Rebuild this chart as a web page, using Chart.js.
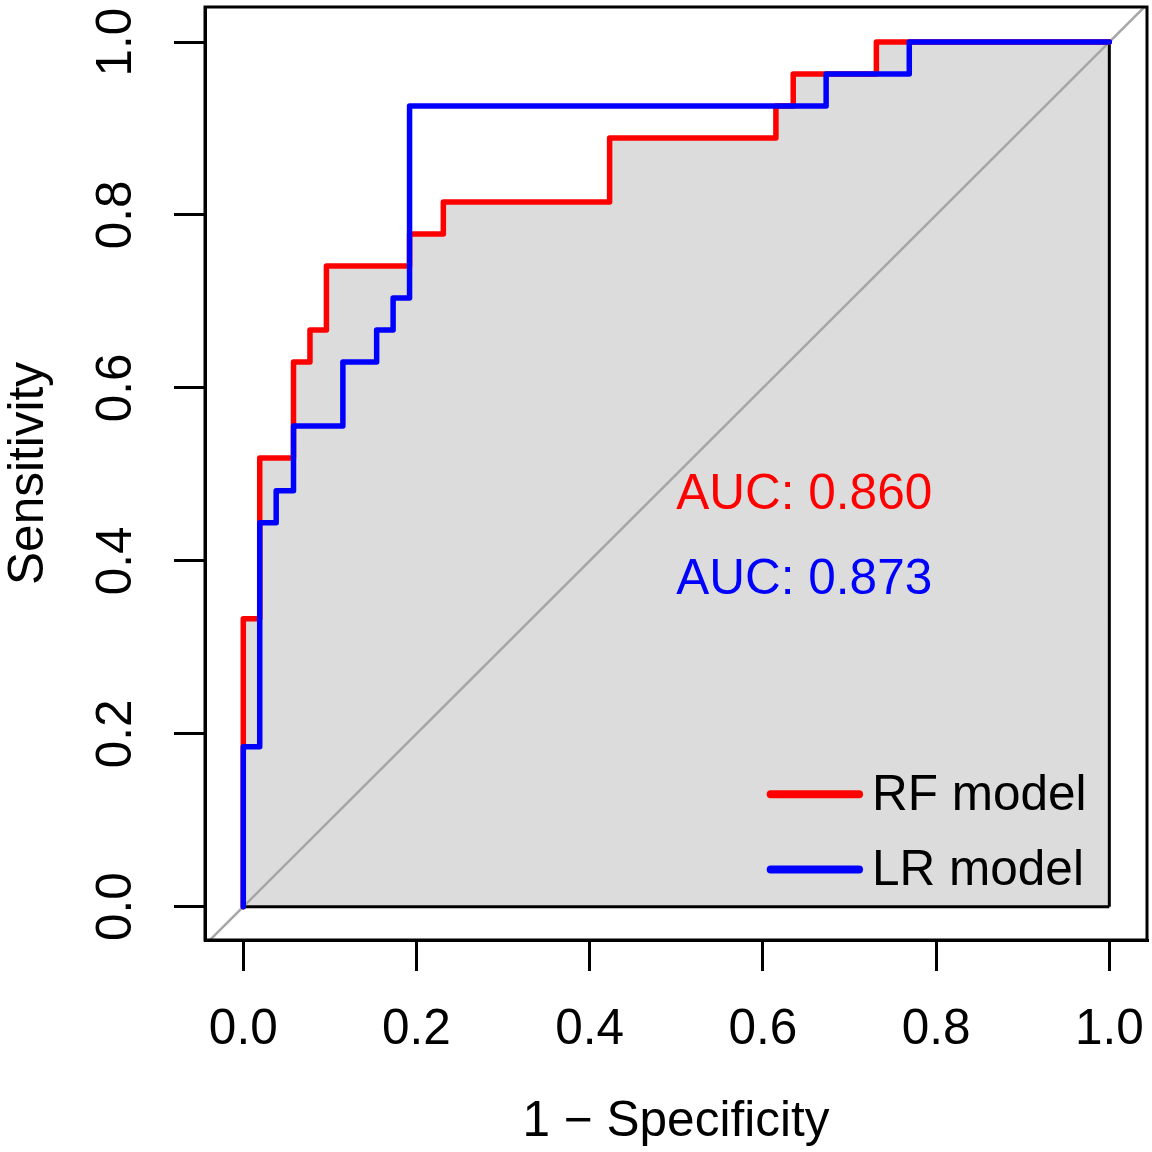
<!DOCTYPE html>
<html>
<head>
<meta charset="utf-8">
<title>ROC curves</title>
<script src="https://cdn.jsdelivr.net/npm/chart.js@4.4.1/dist/chart.umd.min.js"></script>
<style>
  html, body { margin: 0; padding: 0; background: #fff; }
  #wrap { width: 1152px; height: 1152px; position: relative; }
</style>
</head>
<body>
<div id="wrap"><canvas id="roc-chart"></canvas></div>
<script>
  // --- DATOS (1 - especificidad, sensibilidad) ---
  const rfFpr = [0, 0, 0.019, 0.019, 0.058, 0.058, 0.077, 0.077, 0.096, 0.096, 0.192, 0.192,
    0.231, 0.231, 0.423, 0.423, 0.615, 0.615, 0.635, 0.635, 0.731, 0.731, 1];
  const rfTpr = [0, 0.333, 0.333, 0.519, 0.519, 0.630, 0.630, 0.667, 0.667, 0.741, 0.741, 0.778,
    0.778, 0.815, 0.815, 0.889, 0.889, 0.926, 0.926, 0.963, 0.963, 1, 1];

  const lrFpr = [0, 0, 0.019, 0.019, 0.038, 0.038, 0.058, 0.058, 0.115, 0.115, 0.154, 0.154,
    0.173, 0.173, 0.192, 0.192, 0.673, 0.673, 0.769, 0.769, 1];
  const lrTpr = [0, 0.185, 0.185, 0.444, 0.444, 0.481, 0.481, 0.556, 0.556, 0.630, 0.630, 0.667,
    0.667, 0.704, 0.704, 0.926, 0.926, 0.963, 0.963, 1, 1];

  const modelNames = ["RF model", "LR model"];
  const aucValues = [0.860, 0.873];
  const diagonal = [-0.1, 1.1];
  const tickValues = [0, 0.2, 0.4, 0.6, 0.8, 1.0];

  const FONT = '"Liberation Sans", Arial, Helvetica, sans-serif';
  const FONT_SIZE = 49.5;
  const RED = "#ff0000";
  const BLUE = "#0000ff";

  const toPoints = (xs, ys) => xs.map((x, i) => ({ x: x, y: ys[i] }));

  const rfPoints = toPoints(rfFpr, rfTpr);
  const lrPoints = toPoints(lrFpr, lrTpr);
  // polígono del AUC (bajo la curva RF), cerrado en (1, 0)
  const polygonPoints = rfPoints.concat([{ x: 1, y: 0 }]);

  // --- CAJA, TEXTOS AUC Y LEYENDA ---
  const rocExtras = {
    id: "rocExtras",
    afterDatasetsDraw(chart) {
      const ctx = chart.ctx;
      const xs = chart.scales.x;
      const ys = chart.scales.y;
      const colors = [RED, BLUE];

      ctx.save();
      ctx.font = `${FONT_SIZE}px ${FONT}`;
      ctx.textBaseline = "middle";
      ctx.textAlign = "left";

      // AUC
      const aucY = [0.476, 0.377];
      aucValues.forEach((v, i) => {
        ctx.fillStyle = colors[i];
        ctx.fillText(`AUC: ${v.toFixed(3)}`, xs.getPixelForValue(0.5), ys.getPixelForValue(aucY[i]));
      });

      // leyenda
      const rowY = [0.130, 0.043];
      ctx.lineWidth = 8;
      ctx.lineCap = "round";
      modelNames.forEach((name, i) => {
        const y = ys.getPixelForValue(rowY[i]);
        ctx.strokeStyle = colors[i];
        ctx.beginPath();
        ctx.moveTo(xs.getPixelForValue(0.609), y);
        ctx.lineTo(xs.getPixelForValue(0.711), y);
        ctx.stroke();
        ctx.fillStyle = "#000";
        ctx.fillText(name, xs.getPixelForValue(0.726), y + 2);
      });
      ctx.restore();
    },
    afterDraw(chart) {
      const { ctx, chartArea } = chart;
      ctx.save();
      ctx.strokeStyle = "#000";
      ctx.lineWidth = 3;
      ctx.strokeRect(chartArea.left, chartArea.top, chartArea.right - chartArea.left, chartArea.bottom - chartArea.top);
      ctx.restore();
    },
  };

  const axisCommon = {
    type: "linear",
    afterBuildTicks: (s) => {
      s.ticks = tickValues.map((v) => ({ value: v }));
    },
    grid: {
      display: true,
      drawOnChartArea: false,
      drawTicks: true,
      tickLength: 31,
      tickWidth: 3,
      tickColor: "#000",
      color: "#000",
      lineWidth: 3,
    },
    border: { display: true, color: "#000", width: 3 },
  };

  new Chart(document.getElementById("roc-chart"), {
    type: "scatter",
    data: {
      datasets: [
        {
          label: modelNames[1],
          data: lrPoints,
          showLine: true,
          borderColor: BLUE,
          borderWidth: 5.5,
          borderCapStyle: "round",
          borderJoinStyle: "round",
          pointRadius: 0,
          fill: false,
          order: 1,
        },
        {
          label: modelNames[0],
          data: rfPoints,
          showLine: true,
          borderColor: RED,
          borderWidth: 5.5,
          borderCapStyle: "round",
          borderJoinStyle: "round",
          pointRadius: 0,
          fill: false,
          order: 2,
        },
        {
          label: "diagonal",
          data: toPoints(diagonal, diagonal),
          showLine: true,
          borderColor: "#a6a6a6",
          borderWidth: 2.5,
          pointRadius: 0,
          fill: false,
          order: 3,
        },
        {
          label: "auc base",
          data: toPoints([0, 1], [0, 0]),
          showLine: true,
          borderColor: "#000",
          borderWidth: 3,
          pointRadius: 0,
          fill: false,
          order: 4,
        },
        {
          label: "auc polygon",
          data: polygonPoints,
          showLine: true,
          borderColor: "#000",
          borderWidth: 3,
          backgroundColor: "#dcdcdc",
          pointRadius: 0,
          fill: "origin",
          order: 5,
        },
      ],
    },
    options: {
      responsive: true,
      maintainAspectRatio: false,
      devicePixelRatio: 1,
      animation: false,
      events: [],
      layout: { padding: { top: 7, right: 5, bottom: 0, left: 0 } },
      plugins: {
        legend: { display: false },
        tooltip: { enabled: false },
      },
      scales: {
        x: {
          ...axisCommon,
          position: "bottom",
          min: -0.0442,
          max: 1.0435,
          afterFit: (s) => {
            s.height = 212;
            s.paddingLeft = 0;
            s.paddingRight = 0;
          },
          ticks: {
            color: "#000",
            font: { family: FONT, size: FONT_SIZE },
            padding: 30,
            autoSkip: false,
            minRotation: 0,
            maxRotation: 0,
            callback: (v) => Number(v).toFixed(1),
          },
          title: {
            display: true,
            text: "1 \u2212 Specificity",
            color: "#000",
            font: { family: FONT, size: FONT_SIZE },
            padding: { top: 0, bottom: 0 },
          },
        },
        y: {
          ...axisCommon,
          position: "left",
          min: -0.0385,
          max: 1.0405,
          afterFit: (s) => {
            s.width = 205;
            s.paddingTop = 0;
            s.paddingBottom = 0;
          },
          ticks: {
            color: "#000",
            font: { family: FONT, size: FONT_SIZE },
            padding: 22,
            autoSkip: false,
            minRotation: 90,
            maxRotation: 90,
            crossAlign: "center",
            callback: (v) => Number(v).toFixed(1),
          },
          title: {
            display: true,
            text: "Sensitivity",
            color: "#000",
            font: { family: FONT, size: FONT_SIZE },
            padding: { top: 0, bottom: 0 },
          },
        },
      },
    },
    plugins: [rocExtras],
  });
</script>
</body>
</html>
